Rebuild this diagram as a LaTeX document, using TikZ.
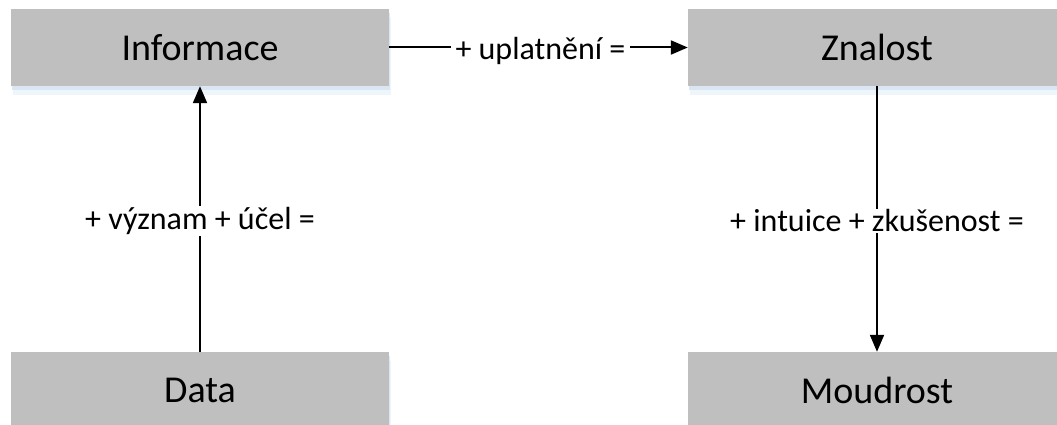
\documentclass[tikz,border=0pt]{standalone}
\usepackage{fontspec}
\setmainfont{Carlito}
\usetikzlibrary{arrows.meta,shadows}
\definecolor{boxgray}{RGB}{191,191,191}
\definecolor{shadowblue}{RGB}{214,228,242}
\definecolor{shadowblue2}{RGB}{234,242,250}
\tikzset{
  databox/.style={fill=boxgray, draw=none, minimum width=378pt, minimum height=77pt,
    inner sep=0pt, font=\fontsize{38}{45}\selectfont,
    drop shadow={shadow xshift=2pt, shadow yshift=-9pt, fill=shadowblue2, opacity=0.8},
    drop shadow={shadow xshift=1pt, shadow yshift=-4pt, fill=shadowblue, opacity=0.8}},
  conn/.style={line width=2pt, -{Triangle[width=14pt,length=17pt]}},
  lbl/.style={fill=white, inner xsep=5pt, inner ysep=1pt, font=\fontsize{32}{38}\selectfont}
}
\begin{document}
\begin{tikzpicture}[x=1pt,y=-1pt]
\useasboundingbox (0,0) rectangle (1057,425);
\begin{scope}
\clip (0,0) rectangle (1057,425);
\node[databox] (info) at (200,47.5) {Informace};
\node[databox] (znal) at (877,47.5) {Znalost};
\node[databox] (data) at (200,390.5) {Data};
\node[databox] (moud) at (877,390.5) {Moudrost};
\end{scope}
\draw[conn] (data.north) -- (info.south) node[lbl, midway, yshift=-2pt] {+ význam + účel =};
\draw[conn] (info.east) -- (znal.west) node[lbl, midway, xshift=2pt, yshift=-3pt] {+ uplatnění =};
\draw[conn] (znal.south) -- (moud.north) node[lbl, midway, yshift=-2pt] {+ intuice + zkušenost =};
\end{tikzpicture}
\end{document}
